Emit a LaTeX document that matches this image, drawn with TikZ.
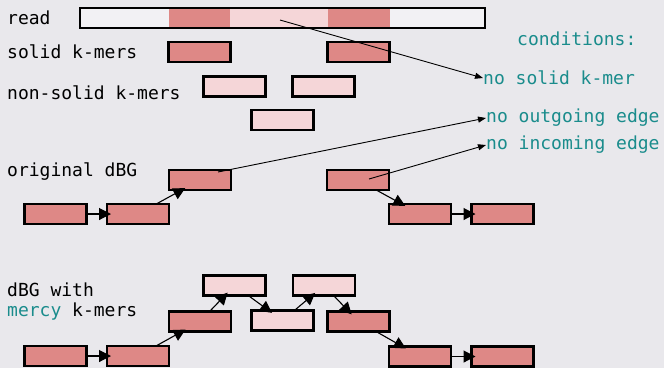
\documentclass[tikz,border=0pt]{standalone}
\usepackage{fontspec}
\setmonofont{DejaVu Sans Mono}
\usetikzlibrary{arrows.meta}
\definecolor{bg}{HTML}{E9E8EC}
\definecolor{solidc}{HTML}{DE8886}
\definecolor{weakc}{HTML}{F5D6D8}
\definecolor{tealc}{HTML}{1A8C8C}
\tikzset{
  kbox/.style={draw=black, line width=2.4pt, minimum width=62pt, minimum height=20pt, inner sep=0pt, outer sep=0pt},
  skm/.style={kbox, fill=solidc},
  wkm/.style={kbox, fill=weakc},
  lbl/.style={font=\ttfamily\fontsize{18}{20}\selectfont, anchor=west, inner sep=0pt},
  cnd/.style={lbl, text=tealc},
  arr/.style={line width=1.1pt, -{Triangle[length=12pt,width=12pt]}, shorten >=-4pt},
  ptr/.style={line width=0.9pt, -{Triangle[length=8pt,width=6pt]}},
}
\begin{document}
\begin{tikzpicture}[x=1pt,y=-1pt]
\fill[bg] (0,0) rectangle (664,368);
\useasboundingbox (0,0) rectangle (664,368);
% read bar
\fill[bg!60!white] (80,8) rectangle (169,28);
\fill[solidc] (169,8) rectangle (230,28);
\fill[weakc] (230,8) rectangle (328,28);
\fill[solidc] (328,8) rectangle (390,28);
\fill[bg!60!white] (390,8) rectangle (485,28);
\node[draw=black, line width=2.4pt, minimum width=405pt, minimum height=20pt, inner sep=0pt] (read) at (282.5,18) {};
\coordinate (rp) at (280,20);
% labels
\node[lbl] (tread) at (7,18) {read};
\node[lbl] (tsolid) at (7,52) {solid k-mers};
\node[lbl] (tnon) at (7,93) {non-solid k-mers};
\node[lbl] (torig) at (7,172) {original dBG};
\node[lbl, align=left] (tmercy) at (7,302) {dBG with\\\textcolor{tealc}{mercy} k-mers};
\node[cnd] (cond) at (517,39) {conditions:};
\node[cnd] (c1) at (483,78) {no solid k-mer};
\node[cnd] (c2) at (486,118) {no outgoing edge};
\node[cnd] (c3) at (486,145) {no incoming edge};
% solid and non-solid k-mers
\node[skm] (s1) at (199.5,52) {};
\node[skm] (s2) at (358.5,52) {};
\node[wkm] (n1) at (234.5,86.5) {};
\node[wkm] (n2) at (323.5,86.5) {};
\node[wkm] (n3) at (282.5,120) {};
% original dBG
\node[skm] (oa) at (55.5,214) {};
\node[skm] (ob) at (138,214) {};
\node[skm] (oc) at (200,180) {};
\node[skm] (od) at (358,180) {};
\node[skm] (oe) at (420,214) {};
\node[skm] (of) at (502.5,214) {};
\draw[arr] (oa) -- (ob);
\draw[arr] (ob) -- (oc);
\draw[arr] (od) -- (oe);
\draw[arr] (oe) -- (of);
\coordinate (op) at (218,172);
\coordinate (dp) at (369,179);
% mercy dBG
\node[skm] (ma) at (55.5,356) {};
\node[skm] (mb) at (138,356) {};
\node[skm] (mc) at (200,321.5) {};
\node[wkm] (m1) at (234.5,285.5) {};
\node[wkm] (m2) at (282.5,320.5) {};
\node[wkm] (m3) at (324,285.5) {};
\node[skm] (md) at (358.5,321.5) {};
\node[skm] (me) at (420,356.5) {};
\node[skm] (mf) at (502.5,356.5) {};
\draw[arr] (ma) -- (mb);
\draw[arr] (mb) -- (mc);
\draw[arr] (mc) -- (m1);
\draw[arr] (m1) -- (m2);
\draw[arr] (m2) -- (m3);
\draw[arr] (m3) -- (md);
\draw[arr] (md) -- (me);
\draw[arr] (me) -- (mf);
% pointers to conditions
\draw[ptr] (rp) -- (c1.west);
\draw[ptr] (op) -- (c2.west);
\draw[ptr] (dp) -- (c3.west);
\end{tikzpicture}
\end{document}
